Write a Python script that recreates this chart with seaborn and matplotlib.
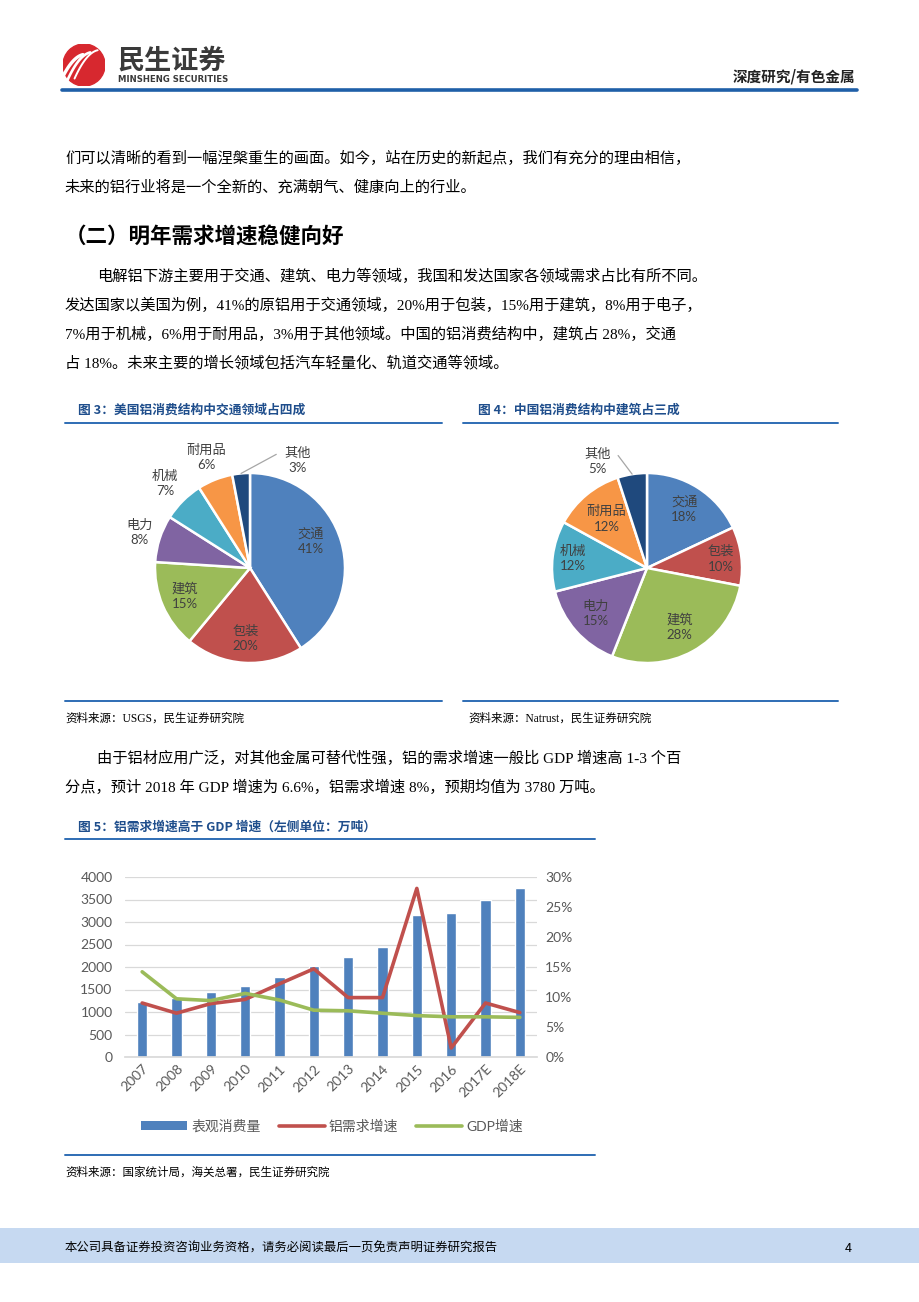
import numpy as np
import pandas as pd
import matplotlib
matplotlib.use("Agg")
import matplotlib.pyplot as plt
from matplotlib.patches import Rectangle, Circle, Patch
from matplotlib.lines import Line2D
import seaborn as sns

W, H = 920, 1302

# pie data (figure 3: USA, figure 4: China)
us_labels = ["交通", "包装", "建筑", "电力", "机械", "耐用品", "其他"]
us_share = [41, 20, 15, 8, 7, 6, 3]
cn_labels = ["交通", "包装", "建筑", "电力", "机械", "耐用品", "其他"]
cn_share = [18, 10, 28, 15, 12, 12, 5]

# figure 5 data
years = ["2007", "2008", "2009", "2010", "2011", "2012", "2013", "2014",
         "2015", "2016", "2017E", "2018E"]
consumption = [1230, 1320, 1437, 1578, 1778, 2030, 2230, 2452, 3148, 3200, 3489, 3763]
al_growth = [9.0, 7.3, 8.9, 9.6, 12.2, 14.7, 9.9, 9.9, 28.1, 1.5, 9.0, 7.4]
gdp_growth = [14.2, 9.7, 9.4, 10.6, 9.5, 7.8, 7.7, 7.3, 6.9, 6.7, 6.7, 6.6]

BLUE, RED, GREEN = "#4F81BD", "#C0504D", "#9BBB59"
pie_colors = sns.color_palette([BLUE, RED, GREEN, "#8064A2", "#4BACC6", "#F79646", "#1F497D"])
TITLE_BLUE = "#1F4E8C"
LINE_BLUE = "#2E6DB4"

sns.set_theme(style="white")
plt.rcParams["font.family"] = ["Noto Sans CJK SC", "DejaVu Sans"]
BODY = ["Liberation Serif", "Noto Sans CJK SC"]
CHART = ["Lato", "Noto Sans CJK SC"]

fig = plt.figure(figsize=(W / 100, H / 100), dpi=100)


def px_axes(x0, y0, x1, y1):
    return fig.add_axes([x0 / W, 1 - y1 / H, (x1 - x0) / W, (y1 - y0) / H])


def txt(x, y, s, **kw):
    kw.setdefault("va", "center")
    fig.text(x / W, 1 - y / H, s, **kw)


def hline(x0, x1, y, color=LINE_BLUE, lw=1.4):
    fig.add_artist(Line2D([x0 / W, x1 / W], [1 - y / H, 1 - y / H], color=color, lw=lw))


# ---- header ----
logo = px_axes(63, 44, 105, 86)
logo.set_xlim(-1, 1)
logo.set_ylim(-1, 1)
logo.set_aspect("equal")
logo.axis("off")
logo.add_patch(Circle((0, 0), 1, color="#D7282F"))
t = np.linspace(0, 1, 30)
for k, off in enumerate([-0.35, 0.0, 0.35]):
    xs = -0.8 + 1.1 * t + off
    ys = 0.35 + 0.25 * t - 1.1 * (1 - t) ** 2 + off * 0.3
    logo.plot(xs, ys, color="white", lw=2.4 - 0.5 * k, solid_capstyle="round")

txt(117, 61, "民生证券", fontsize=19.5, fontweight="bold", color="#3A3A3A", ha="left")
txt(118, 80, "MINSHENG SECURITIES", fontsize=6.1, fontweight="bold", color="#3A3A3A",
    ha="left", family=["Liberation Sans Narrow", "DejaVu Sans"])
txt(855, 77, "深度研究/有色金属", fontsize=10.5, fontweight="bold", color="#222222", ha="right")
hline(62, 857, 90, color="#1F5FA8", lw=2.6)

# ---- body text ----
body_kw = dict(fontsize=11, color="black", ha="left", family=BODY)
txt(65, 158, "们可以清晰的看到一幅涅槃重生的画面。如今，站在历史的新起点，我们有充分的理由相信，", **body_kw)
txt(65, 187, "未来的铝行业将是一个全新的、充满朝气、健康向上的行业。", **body_kw)
txt(65, 236, "（二）明年需求增速稳健向好", fontsize=15.5, fontweight="bold", color="black", ha="left")
txt(97, 276, "电解铝下游主要用于交通、建筑、电力等领域，我国和发达国家各领域需求占比有所不同。", **body_kw)
txt(65, 305, "发达国家以美国为例，41%的原铝用于交通领域，20%用于包装，15%用于建筑，8%用于电子，", **body_kw)
txt(65, 334, "7%用于机械，6%用于耐用品，3%用于其他领域。中国的铝消费结构中，建筑占 28%，交通", **body_kw)
txt(65, 363, "占 18%。未来主要的增长领域包括汽车轻量化、轨道交通等领域。", **body_kw)

# ---- pies ----
title_kw = dict(fontsize=9.2, fontweight="bold", color=TITLE_BLUE, ha="left")
src_kw = dict(fontsize=8.3, color="black", ha="left", family=BODY)

txt(78, 410, "图 3：美国铝消费结构中交通领域占四成", **title_kw)
hline(65, 442, 423)
txt(478, 410, "图 4：中国铝消费结构中建筑占三成", **title_kw)
hline(463, 838, 423)
hline(65, 442, 701)
hline(463, 838, 701)
txt(65, 719, "资料来源：USGS，民生证券研究院", **src_kw)
txt(468, 719, "资料来源：Natrust，民生证券研究院", **src_kw)


def draw_pie(cx, cy, shares, labels, dists, shifts):
    r, half = 95, 135
    ax = px_axes(cx - half, cy - half, cx + half, cy + half)
    wedges, _ = ax.pie(shares, colors=pie_colors, startangle=90, counterclock=False,
                       radius=1, wedgeprops=dict(edgecolor="white", linewidth=1.8))
    ax.set_xlim(-half / r, half / r)
    ax.set_ylim(-half / r, half / r)
    ax.set_aspect("equal")
    ax.axis("off")
    for w, lab, share, d, sh in zip(wedges, labels, shares, dists, shifts):
        mid = np.deg2rad((w.theta1 + w.theta2) / 2)
        ang = mid + np.deg2rad(sh)
        lx, ly = d * np.cos(ang), d * np.sin(ang)
        ax.text(lx, ly, f"{lab}\n{share}%", ha="center", va="center", fontsize=9.5,
                color="#404040", linespacing=1.35, family=CHART)
        if d > 1.1 and sh != 0:
            # leader line for the small slice whose label is pushed aside
            sx, sy = np.cos(mid), np.sin(mid)
            ex = lx - 0.22 * np.sign(lx - sx)
            ax.plot([sx, ex], [sy, ly + 0.06], color="#A6A6A6", lw=0.9)


draw_pie(250, 568, us_share, us_labels,
         [0.70, 0.74, 0.75, 1.22, 1.26, 1.25, 1.24], [8, 0, 0, 0, 0, 0, -29])
draw_pie(647, 568, cn_share, cn_labels,
         [0.73, 0.78, 0.71, 0.72, 0.79, 0.67, 1.24], [0, 0, 0, 0, 0, 0, 16])

# ---- paragraph between figures ----
txt(97, 758, "由于铝材应用广泛，对其他金属可替代性强，铝的需求增速一般比 GDP 增速高 1-3 个百", **body_kw)
txt(65, 787, "分点，预计 2018 年 GDP 增速为 6.6%，铝需求增速 8%，预期均值为 3780 万吨。", **body_kw)

# ---- figure 5 ----
txt(78, 827, "图 5：铝需求增速高于 GDP 增速（左侧单位：万吨）", **title_kw)
hline(65, 595, 839)
hline(65, 595, 1155)
txt(65, 1173, "资料来源：国家统计局，海关总署，民生证券研究院", **src_kw)

df = pd.DataFrame({"year": years, "consumption": consumption,
                   "al": al_growth, "gdp": gdp_growth})
df["pos"] = np.arange(len(df))

ax = px_axes(125, 877, 537, 1057)
sns.barplot(data=df, x="year", y="consumption", color=BLUE, saturation=1,
            width=0.31, ax=ax, zorder=2)
ax.set_ylim(0, 4000)
ax.set_yticks(range(0, 4001, 500))
ax.set_xlim(-0.5, len(years) - 0.5)
ax.grid(axis="y", color="#D9D9D9", lw=0.9)
ax.set_axisbelow(True)
ax.set_xlabel("")
ax.set_ylabel("")
for s in ["top", "left", "right"]:
    ax.spines[s].set_visible(False)
ax.spines["bottom"].set_color("#D9D9D9")
ax.tick_params(axis="y", length=0, pad=9, labelsize=10, labelcolor="#595959")
ax.tick_params(axis="x", length=0, pad=4, labelsize=10, labelcolor="#595959")
for lab in ax.get_xticklabels():
    lab.set_rotation(45)
    lab.set_ha("right")
    lab.set_rotation_mode("anchor")
for lab in ax.get_xticklabels() + ax.get_yticklabels():
    lab.set_family(CHART)

ax2 = ax.twinx()
sns.lineplot(data=df, x="pos", y="al", color=RED, lw=2.6, ax=ax2)
sns.lineplot(data=df, x="pos", y="gdp", color=GREEN, lw=2.6, ax=ax2)
ax2.set_ylim(0, 30)
ax2.set_yticks(range(0, 31, 5))
ax2.yaxis.set_major_formatter(lambda v, p: f"{v:.0f}%")
ax2.set_xlim(-0.5, len(years) - 0.5)
ax2.set_xlabel("")
ax2.set_ylabel("")
ax2.grid(False)
for s in ax2.spines.values():
    s.set_visible(False)
ax2.tick_params(axis="y", length=0, pad=6, labelsize=10, labelcolor="#595959")
for lab in ax2.get_yticklabels():
    lab.set_family(CHART)

handles = [Patch(facecolor=BLUE, edgecolor="none"),
           Line2D([], [], color=RED, lw=2.6),
           Line2D([], [], color=GREEN, lw=2.6)]
leg = fig.legend(handles, ["表观消费量", "铝需求增速", "GDP增速"], loc="center",
                 bbox_to_anchor=(332 / W, 1 - 1126 / H), ncol=3, frameon=False,
                 fontsize=10, handlelength=3.3, handleheight=0.6,
                 handletextpad=0.3, columnspacing=1.3)
for t_ in leg.get_texts():
    t_.set_color("#595959")
    t_.set_family(CHART)

# ---- footer ----
fig.add_artist(Rectangle((0, 1 - 1263 / H), 1, 35 / H, transform=fig.transFigure,
                         color="#C6D9F1", lw=0))
txt(65, 1248, "本公司具备证券投资咨询业务资格，请务必阅读最后一页免责声明证券研究报告",
    fontsize=8.9, color="black", ha="left")
txt(852, 1248, "4", fontsize=9, color="black", ha="right")

fig.savefig("out.png", dpi=100)
